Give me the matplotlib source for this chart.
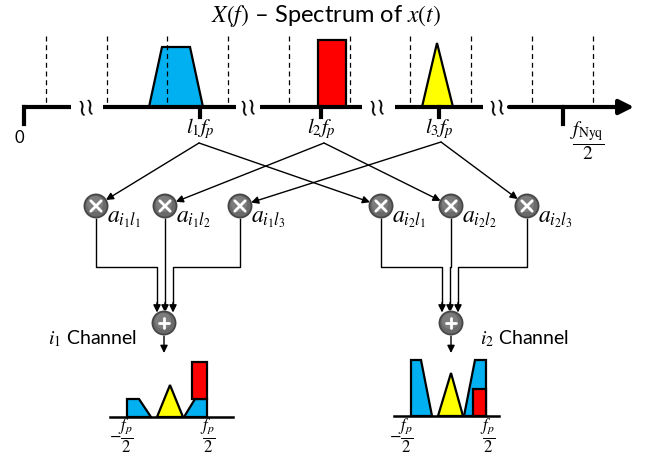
import numpy as np
import matplotlib
matplotlib.use("Agg")
import matplotlib.pyplot as plt
from matplotlib.patches import Polygon, Circle, Rectangle

plt.rcParams['mathtext.fontset'] = 'stix'
plt.rcParams['font.family'] = ['Lato', 'DejaVu Sans']

# ---- data (diagram geometry in pixel units) ----
axis_y = 107
segments = [(22, 71), (103, 236), (260, 362), (395, 483), (509, 622)]
breaks_x = [86, 248, 377, 497]
dashed_x = [46, 107, 167, 228, 289, 350, 410, 471, 532, 593]
blue_top = [(149, 107), (162, 47), (190, 47), (203, 107)]
red_top = (318, 40, 346)           # x0, top, x1
yellow_top = (422, 437, 43, 453)   # x0, apex x, apex y, x1
band_ticks = [200, 321, 439]
band_labels = [r'$l_1f_p$', r'$l_2f_p$', r'$l_3f_p$']
src_pts = [(199, 143), (324, 143), (441, 142)]
mult_x = [96, 165, 240, 381, 451, 527]
mult_y = 206
mult_labels = [r'$a_{i_1l_1}$', r'$a_{i_1l_2}$', r'$a_{i_1l_3}$',
               r'$a_{i_2l_1}$', r'$a_{i_2l_2}$', r'$a_{i_2l_3}$']
sum_x = [164, 451]
sum_y = 323
merge_x = [[157, 165, 173], [442, 450, 458]]
channel_labels = [r'$i_1$ Channel', r'$i_2$ Channel']
channel_pos = [(48, 339), (480, 339)]

fig = plt.figure(figsize=(6.52, 4.55), dpi=100)
ax = fig.add_axes([0, 0, 1, 1])
ax.set_xlim(0, 652)
ax.set_ylim(455, 0)
ax.axis('off')

BLUE = '#00B0F0'
RED = '#FF0000'
YEL = '#FFFF00'

# title
ax.text(326, 16, r'$X(f)$ – Spectrum of $x(t)$', ha='center', va='center', fontsize=17)

# spectrum shapes
ax.add_patch(Polygon(blue_top, closed=True, fc=BLUE, ec='black', lw=1.6, zorder=2))
ax.add_patch(Rectangle((red_top[0], red_top[1]), red_top[2]-red_top[0], axis_y-red_top[1],
                       fc=RED, ec='black', lw=1.6, zorder=2))
ax.add_patch(Polygon([(yellow_top[0], axis_y), (yellow_top[1], yellow_top[2]), (yellow_top[3], axis_y)],
                     closed=True, fc=YEL, ec='black', lw=1.6, zorder=2))

for x in dashed_x:
    ax.plot([x, x], [36, axis_y-1], color='black', lw=0.9, ls=(0, (4, 3)), zorder=3)

for i, (x0, x1) in enumerate(segments):
    if i == len(segments) - 1:
        ax.annotate('', xy=(x1 + 12, axis_y), xytext=(x0, axis_y),
                    arrowprops=dict(arrowstyle='-|>', lw=3, color='black', mutation_scale=22,
                                    shrinkA=0, shrinkB=0), zorder=4)
    else:
        ax.plot([x0, x1], [axis_y, axis_y], color='black', lw=3, solid_capstyle='butt', zorder=4)

for bx in breaks_x:
    ax.text(bx, axis_y + 1, '≀≀', ha='center', va='center', fontsize=17,
            family='DejaVu Sans', rotation=8)

# ticks
ax.plot([24, 24], [axis_y, 124], color='black', lw=3, zorder=4)
ax.text(19, 138, '0', ha='center', va='center', fontsize=12)
ax.plot([563, 563], [axis_y, 124], color='black', lw=3, zorder=4)
ax.text(587, 141, r'$\dfrac{f_{\mathrm{Nyq}}}{2}$', ha='center', va='center', fontsize=14)
for x, lab in zip(band_ticks, band_labels):
    ax.plot([x, x], [axis_y, 117], color='black', lw=3, zorder=4)
    ax.text(x, 129, lab, ha='center', va='center', fontsize=15)

# connection lines from bands to multipliers
R = 11.5
pairs = [(0, 0), (0, 3), (1, 1), (1, 4), (2, 2), (2, 5)]
for s, m in pairs:
    sx, sy = src_pts[s]
    tx, ty = mult_x[m], mult_y
    d = np.hypot(tx - sx, ty - sy)
    ex = tx - (tx - sx) / d * R
    ey = ty - (ty - sy) / d * R
    ax.annotate('', xy=(ex, ey), xytext=(sx, sy),
                arrowprops=dict(arrowstyle='-|>', lw=1, color='black', mutation_scale=11,
                                shrinkA=0, shrinkB=0), zorder=5)


def node(x, y, kind):
    ax.add_patch(Circle((x, y), R + 1.2, fc='#d0d0d0', ec='none', zorder=6))
    ax.add_patch(Circle((x, y), R, fc='#6a6a6a', ec='#454545', lw=1.2, zorder=6))
    ax.add_patch(Circle((x - 1, y - 2), R * 0.7, fc='#7c7c7c', ec='none', zorder=6))
    s = 5.2
    if kind == 'x':
        ax.plot([x - s, x + s], [y - s, y + s], color='white', lw=2, zorder=7, solid_capstyle='round')
        ax.plot([x - s, x + s], [y + s, y - s], color='white', lw=2, zorder=7, solid_capstyle='round')
    else:
        ax.plot([x - s, x + s], [y, y], color='white', lw=2, zorder=7, solid_capstyle='round')
        ax.plot([x, x], [y - s, y + s], color='white', lw=2, zorder=7, solid_capstyle='round')


for x, lab in zip(mult_x, mult_labels):
    node(x, mult_y, 'x')
    ax.text(x + 11, mult_y + 13, lab, ha='left', va='center', fontsize=17)

# wiring to summation nodes
route_y = 267
for g in range(2):
    mx = mult_x[3*g:3*g+3]
    for k in range(3):
        tx = merge_x[g][k]
        ax.plot([mx[k], mx[k], tx, tx], [mult_y + R, route_y, route_y, sum_y - R - 8],
                color='black', lw=1, zorder=5)
        ax.annotate('', xy=(tx, sum_y - R + 1), xytext=(tx, sum_y - R - 9),
                    arrowprops=dict(arrowstyle='-|>', lw=1, color='black', mutation_scale=11,
                                    shrinkA=0, shrinkB=0), zorder=5)
    node(sum_x[g], sum_y, '+')
    ax.annotate('', xy=(sum_x[g], 353), xytext=(sum_x[g], sum_y + R),
                arrowprops=dict(arrowstyle='-|>', lw=1, color='black', mutation_scale=11,
                                shrinkA=0, shrinkB=0), zorder=5)
    ax.text(channel_pos[g][0], channel_pos[g][1], channel_labels[g], ha='left', va='center', fontsize=14)

# bottom spectra
# left channel
b1 = 417
ax.add_patch(Polygon([(127, b1), (127, 399), (139, 399), (151, b1)], closed=True,
                     fc=BLUE, ec='black', lw=1.6, zorder=2))
ax.add_patch(Polygon([(157, b1), (170, 385), (183, b1)], closed=True, fc=YEL, ec='black', lw=1.6, zorder=2))
ax.add_patch(Polygon([(184, b1), (195, 399), (207, 399), (207, b1)], closed=True,
                     fc=BLUE, ec='black', lw=1.6, zorder=2))
ax.add_patch(Rectangle((192, 362), 15, 37, fc=RED, ec='black', lw=1.6, zorder=3))
ax.plot([110, 233], [b1, b1], color='black', lw=1.8, zorder=4)
ax.text(121, 436, r'$-\dfrac{f_p}{2}$', ha='center', va='center', fontsize=12)
ax.text(208, 436, r'$\dfrac{f_p}{2}$', ha='center', va='center', fontsize=12)

# right channel
b2 = 416
ax.add_patch(Polygon([(411, b2), (411, 360), (421, 360), (432, b2)], closed=True,
                     fc=BLUE, ec='black', lw=1.6, zorder=2))
ax.add_patch(Polygon([(438, b2), (451, 373), (463, b2)], closed=True, fc=YEL, ec='black', lw=1.6, zorder=2))
ax.add_patch(Polygon([(464, b2), (475, 360), (486, 360), (486, b2)], closed=True,
                     fc=BLUE, ec='black', lw=1.6, zorder=2))
ax.add_patch(Rectangle((473, 389), 13, 27, fc=RED, ec='black', lw=1.6, zorder=3))
ax.plot([394, 499], [b2, b2], color='black', lw=1.8, zorder=4)
ax.text(401, 436, r'$-\dfrac{f_p}{2}$', ha='center', va='center', fontsize=12)
ax.text(488, 436, r'$\dfrac{f_p}{2}$', ha='center', va='center', fontsize=12)

fig.savefig('out.png', dpi=100)
